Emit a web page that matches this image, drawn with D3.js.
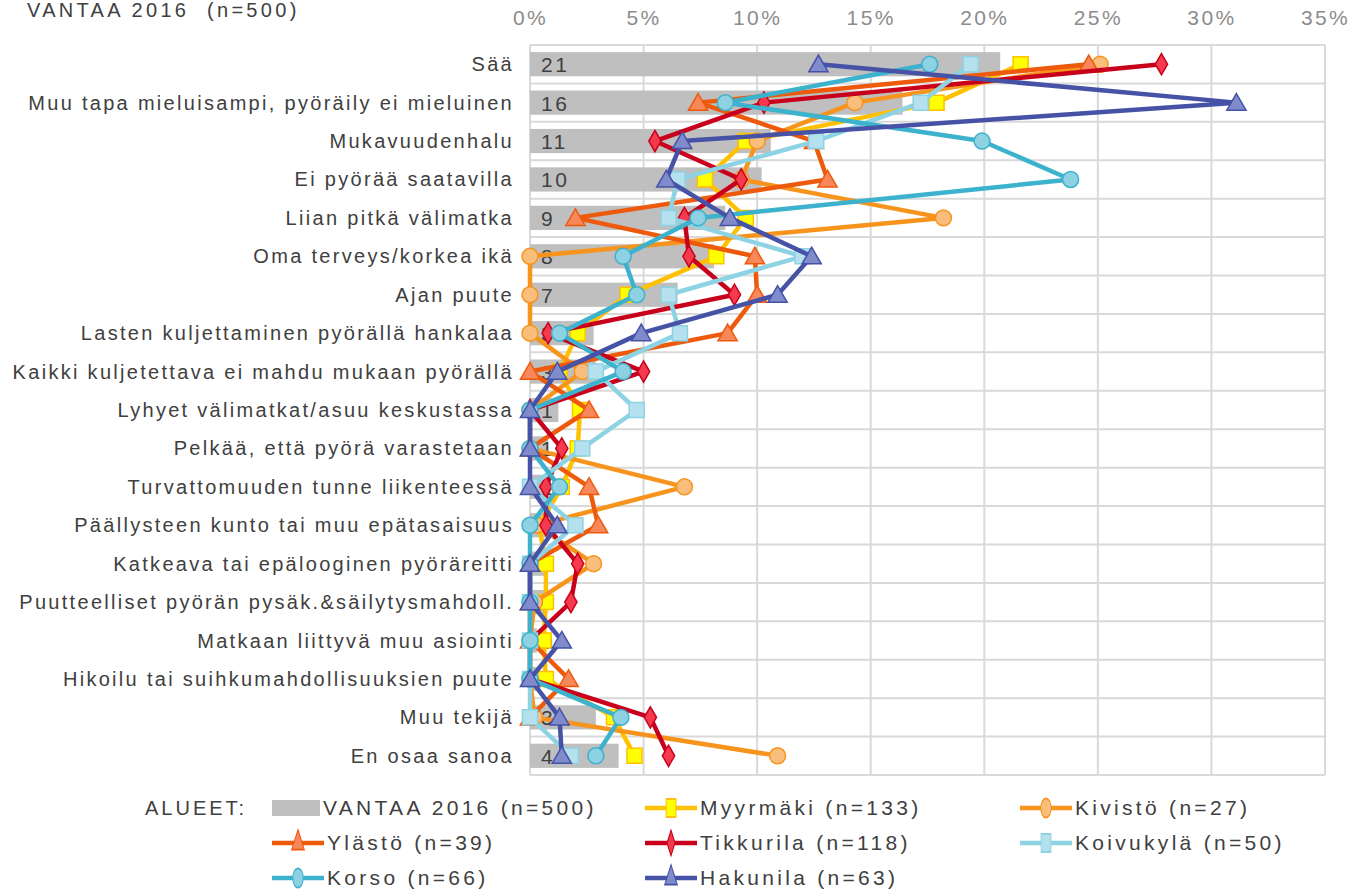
<!DOCTYPE html>
<html>
<head>
<meta charset="utf-8">
<script src="https://cdn.jsdelivr.net/npm/d3@7"></script>
<style>
  body { margin: 0; background: #fff; }
  svg { display: block; font-family: "Liberation Sans", Arial, sans-serif; }
  text { white-space: pre; }
</style>
</head>
<body>
<svg width="1351" height="890"></svg>
<script>
// categories top -> bottom
var categories = [
  "Sää",
  "Muu tapa mieluisampi, pyöräily ei mieluinen",
  "Mukavuudenhalu",
  "Ei pyörää saatavilla",
  "Liian pitkä välimatka",
  "Oma terveys/korkea ikä",
  "Ajan puute",
  "Lasten kuljettaminen pyörällä hankalaa",
  "Kaikki kuljetettava ei mahdu mukaan pyörällä",
  "Lyhyet välimatkat/asuu keskustassa",
  "Pelkää, että pyörä varastetaan",
  "Turvattomuuden tunne liikenteessä",
  "Päällysteen kunto tai muu epätasaisuus",
  "Katkeava tai epälooginen pyöräreitti",
  "Puutteelliset pyörän pysäk.&säilytysmahdoll.",
  "Matkaan liittyvä muu asiointi",
  "Hikoilu tai suihkumahdollisuuksien puute",
  "Muu tekijä",
  "En osaa sanoa"
];

// VANTAA 2016 bars (%)
var vantaa = [20.7, 16.4, 10.6, 10.2, 8.6, 8.1, 6.5, 2.8, 2.9, 1.25, 0.8, 0.9, 0.8, 0.7, 0.7, 0.3, 0.3, 2.9, 3.9];

// areas (%)
var myyrmaki  = [21.6, 17.9, 9.5, 7.7, 9.5, 8.2, 4.3, 2.1, 1.3, 2.2, 2.1, 1.4, 0.4, 0.7, 0.7, 0.6, 0.7, 3.7, 4.6];
var kivisto   = [25.1, 14.3, 10.0, 9.3, 18.2, 0, 0, 0, 2.3, 0, 0, 6.8, 0.3, 2.8, 0.2, 0, 0, 0.2, 10.9];
var ylasto    = [24.6, 7.4, 12.5, 13.1, 2.0, 9.9, 10.0, 8.7, 0, 2.6, 0, 2.6, 3.0, 0, 0, 0, 1.7, 0, null];
var tikkurila = [27.8, 10.3, 5.5, 9.3, 6.8, 7.0, 9.0, 0.8, 5.0, 0, 1.4, 0.7, 0.7, 2.1, 1.8, 0, 0, 5.3, 6.1];
var koivukyla = [19.4, 17.2, 12.6, 6.5, 6.1, 12.0, 6.1, 6.6, 2.9, 4.7, 2.3, 0, 2.0, 0, 0, 0, 0, 0, 1.8];
var korso     = [17.6, 8.6, 19.9, 23.8, 7.4, 4.1, 4.7, 1.3, 4.1, 0, 0, 1.3, 0, 0, 0, 0, 0, 4.0, 2.9];
var hakunila  = [12.7, 31.1, 6.7, 6.0, 8.8, 12.4, 10.9, 4.9, 1.2, 0, 0, 0, 1.2, 0, 0, 1.4, 0, 1.3, 1.4];

var xTicks = [0, 5, 10, 15, 20, 25, 30, 35];

var series = [
  { name: "Myyrmäki (n=133)",  values: myyrmaki,  line: "#FFC000", fill: "#FFFF00", stroke: "#FFC000", shape: "square" },
  { name: "Kivistö (n=27)",    values: kivisto,   line: "#F7941D", fill: "#F9BE7C", stroke: "#F7941D", shape: "circle" },
  { name: "Ylästö (n=39)",     values: ylasto,    line: "#EE5A0C", fill: "#F8875A", stroke: "#EE5A0C", shape: "triangle" },
  { name: "Tikkurila (n=118)", values: tikkurila, line: "#C8001C", fill: "#F53A4E", stroke: "#C8001C", shape: "diamond" },
  { name: "Koivukylä (n=50)",  values: koivukyla, line: "#8DD3E3", fill: "#B5E1EE", stroke: "#8DD3E3", shape: "square" },
  { name: "Korso (n=66)",      values: korso,     line: "#3CB2CC", fill: "#8ED1E2", stroke: "#3CB2CC", shape: "circle" },
  { name: "Hakunila (n=63)",   values: hakunila,  line: "#4652A6", fill: "#7F8BCB", stroke: "#4652A6", shape: "triangle" }
];

var svg = d3.select("svg"),
    margin = { top: 45, right: 26, bottom: 115, left: 530 },
    width = +svg.attr("width"),
    height = +svg.attr("height");

svg.append("rect").attr("width", width).attr("height", height).attr("fill", "#fff");

var x = d3.scaleLinear().domain([0, 35]).range([margin.left, width - margin.right]);
var y = d3.scaleBand().domain(categories).range([margin.top, height - margin.bottom]);
var yc = function(i) { return y(categories[i]) + y.bandwidth() / 2; };

var symbols = {
  square: d3.symbolSquare,
  circle: d3.symbolCircle,
  triangle: d3.symbolTriangle,
  diamond: d3.symbolDiamond
};
var sizes = { square: 225, circle: 200, triangle: 160, diamond: 130 };

// title
svg.append("text")
    .attr("x", 27).attr("y", 17)
    .attr("font-size", "20px").attr("letter-spacing", "3.3px")
    .attr("fill", "#404040")
    .text("VANTAA 2016  (n=500)");

// grid
var grid = svg.append("g").attr("stroke", "#D9D9D9").attr("stroke-width", 2);
grid.selectAll("line.v")
    .data(xTicks)
    .enter().append("line")
    .attr("class", "v")
    .attr("x1", function(d) { return x(d); })
    .attr("x2", function(d) { return x(d); })
    .attr("y1", margin.top).attr("y2", height - margin.bottom);
grid.selectAll("line.h")
    .data(d3.range(categories.length + 1))
    .enter().append("line")
    .attr("class", "h")
    .attr("x1", x(0)).attr("x2", x(35))
    .attr("y1", function(i) { return margin.top + i * y.step(); })
    .attr("y2", function(i) { return margin.top + i * y.step(); });

// top axis
var xAxis = svg.append("g")
    .attr("transform", "translate(0," + 25 + ")")
    .call(d3.axisTop(x).tickValues(xTicks).tickFormat(function(d) { return d + "%"; }).tickSize(0).tickPadding(0));
xAxis.select(".domain").remove();
xAxis.selectAll("text")
    .attr("font-size", "21px").attr("letter-spacing", "2.4px")
    .attr("font-family", "Liberation Sans, Arial, sans-serif")
    .attr("fill", "#8C8C8C");

// category labels
svg.append("g").selectAll("text")
    .data(categories)
    .enter().append("text")
    .attr("x", 514)
    .attr("y", function(d) { return y(d) + y.bandwidth() / 2 + 7; })
    .attr("text-anchor", "end")
    .attr("font-size", "20px").attr("letter-spacing", "2.3px")
    .attr("fill", "#404040")
    .text(function(d) { return d; });

// bars
var barH = y.bandwidth() * 0.63;
svg.append("g").selectAll("rect")
    .data(vantaa)
    .enter().append("rect")
    .attr("x", x(0))
    .attr("y", function(d, i) { return yc(i) - barH / 2; })
    .attr("width", function(d) { return x(d) - x(0); })
    .attr("height", barH)
    .attr("fill", "#BFBFBF");

svg.append("g").selectAll("text")
    .data(vantaa)
    .enter().append("text")
    .attr("x", x(0) + 11)
    .attr("y", function(d, i) { return yc(i) + 8; })
    .attr("font-size", "21px").attr("letter-spacing", "2.5px")
    .attr("fill", "#404040")
    .text(function(d) { return Math.round(d); });

// area lines
var line = d3.line()
    .defined(function(d) { return d != null; })
    .x(function(d) { return x(d); })
    .y(function(d, i) { return yc(i); });

series.forEach(function(s) {
  var g = svg.append("g");
  g.append("path")
      .attr("d", line(s.values))
      .attr("fill", "none")
      .attr("stroke", s.line)
      .attr("stroke-width", 4.5)
      .attr("stroke-linejoin", "round");
  g.selectAll("path.m")
      .data(s.values.map(function(v, i) { return { v: v, i: i }; }).filter(function(d) { return d.v != null; }))
      .enter().append("path")
      .attr("class", "m")
      .attr("transform", function(d) { return "translate(" + x(d.v) + "," + (yc(d.i) + (s.shape == "triangle" ? 2 : 0)) + ")"; })
      .attr("d", d3.symbol().type(symbols[s.shape]).size(sizes[s.shape]))
      .attr("fill", s.fill)
      .attr("stroke", s.stroke)
      .attr("stroke-width", 1.5);
});

// legend
var legend = svg.append("g").attr("font-size", "21px").attr("letter-spacing", "3.3px").attr("fill", "#404040");
legend.append("text").attr("x", 145).attr("y", 815).attr("font-size", "20px").attr("letter-spacing", "3px").text("ALUEET:");

var legendItems = [{ name: "VANTAA 2016 (n=500)", bar: true }].concat(series);
var colX = [272, 645, 1020], rowY = [808, 843, 878];

legendItems.forEach(function(s, k) {
  var lx = colX[k % 3],
      ly = rowY[Math.floor(k / 3)];
  var item = legend.append("g");
  if (s.bar) {
    item.append("rect").attr("x", lx).attr("y", ly - 8).attr("width", 48).attr("height", 16).attr("fill", "#BFBFBF");
  } else {
    item.append("line")
        .attr("x1", lx).attr("x2", lx + 52)
        .attr("y1", ly).attr("y2", ly)
        .attr("stroke", s.line).attr("stroke-width", 4.5);
    item.append("path")
        .attr("transform", "translate(" + (lx + 26) + "," + ly + ") scale(0.65,1.2)")
        .attr("d", d3.symbol().type(symbols[s.shape]).size(sizes[s.shape]))
        .attr("fill", s.fill).attr("stroke", s.stroke).attr("stroke-width", 1.5);
  }
  item.append("text").attr("x", lx + (s.bar ? 51 : 55)).attr("y", ly + 7).text(s.name);
});
</script>
</body>
</html>
